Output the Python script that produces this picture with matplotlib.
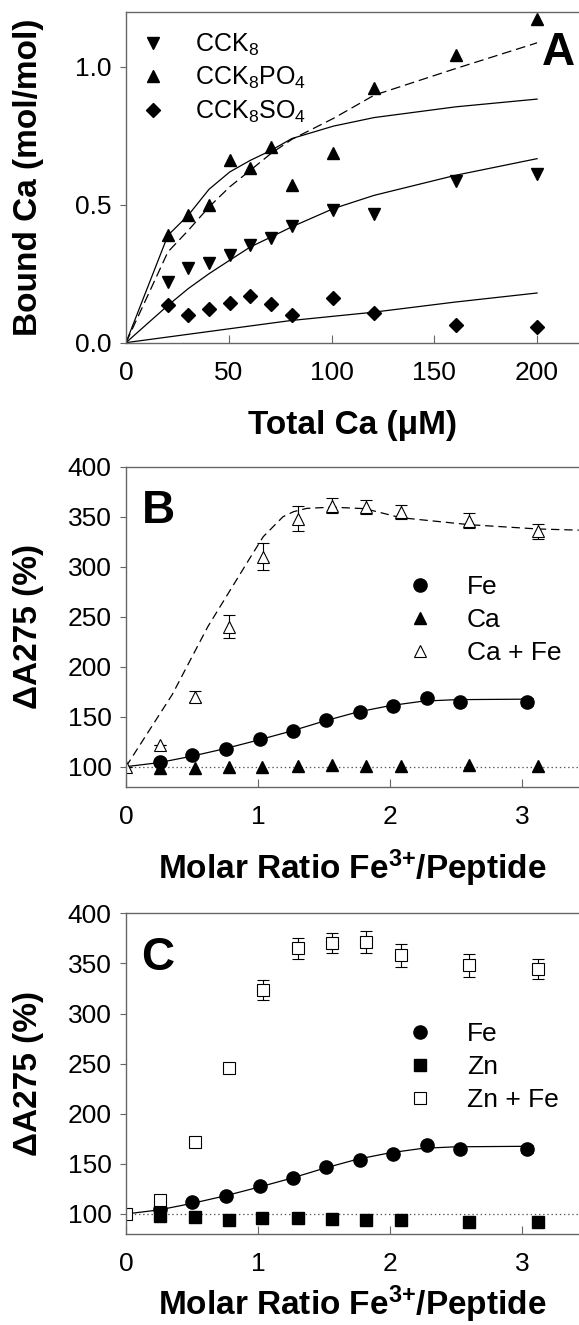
import matplotlib.pyplot as plt

plt.rcParams['font.family'] = ['Liberation Sans', 'DejaVu Sans']
plt.rcParams['mathtext.fontset'] = 'custom'
plt.rcParams['mathtext.rm'] = 'Liberation Sans'
plt.rcParams['mathtext.it'] = 'Liberation Sans:italic'
plt.rcParams['mathtext.bf'] = 'Liberation Sans:bold'
plt.rcParams['lines.scale_dashes'] = False

# Panel A: Ca binding to CCK8 peptides
ca_total = [20.4, 30.3, 40.4, 50.5, 60.5, 70.6, 80.7, 100.9, 120.7, 160.5, 200.0]
bound_cck8 = [0.22, 0.27, 0.287, 0.317, 0.353, 0.381, 0.424, 0.48, 0.468, 0.586, 0.613]
bound_po4 = [0.389, 0.464, 0.498, 0.661, 0.634, 0.71, 0.57, 0.688, 0.925, 1.042, 1.173]
bound_so4 = [0.135, 0.10, 0.122, 0.144, 0.168, 0.139, 0.099, 0.162, 0.108, 0.065, 0.057]

fit_x = [0, 20.4, 30.3, 40.4, 50.5, 60.5, 70.6, 80.7, 100.9, 120.7, 160.5, 200.0]
fit_po4 = [0, 0.389, 0.462, 0.556, 0.619, 0.661, 0.697, 0.740, 0.785, 0.816, 0.855, 0.883]
fit_po4_dash = [0, 0.329, 0.407, 0.492, 0.565, 0.625, 0.686, 0.737, 0.813, 0.897, 0.994, 1.087]
fit_cck8 = [0, 0.135, 0.196, 0.25, 0.299, 0.347, 0.383, 0.42, 0.486, 0.534, 0.607, 0.667]
fit_so4_x = [0, 40, 80, 120, 160, 200]
fit_so4 = [0, 0.04, 0.08, 0.11, 0.147, 0.18]

# Panels B and C: A275 change vs Fe3+/peptide
fe_ratio = [0.254, 0.503, 0.757, 1.014, 1.265, 1.517, 1.77, 2.025, 2.277, 2.528, 3.039]
fe_dA = [105, 112, 117.6, 127.5, 135.5, 147, 154.2, 160.2, 168.8, 165, 165]
fe_err = [0, 0, 0, 0, 0, 0, 0, 0, 0, 0, 4]
fe_fit_x = [0, 0.25, 0.5, 0.75, 1.0, 1.25, 1.5, 1.75, 2.0, 2.25, 2.5, 3.04]
fe_fit_y = [100, 104, 110.5, 118, 126.5, 135.5, 145.5, 154.5, 161, 165.5, 167, 167.5]

metal_ratio = [0.254, 0.525, 0.779, 1.034, 1.302, 1.564, 1.818, 2.081, 2.598, 3.123]
ca_dA = [99, 98.5, 99.5, 99.5, 100.5, 101.5, 101, 100.3, 101.3, 100.5]
zn_dA = [97.5, 96.7, 93.7, 96, 96, 95.4, 93.7, 93.7, 92, 92]

mix_ratio = [0, 0.26, 0.52, 0.78, 1.036, 1.30, 1.559, 1.818, 2.08, 2.598, 3.123]
cafe_dA = [100, 121.5, 170, 240, 310, 348, 361, 360, 355, 346, 335.3]
cafe_err = [0, 0, 5.5, 11.5, 13.5, 12.5, 7.5, 7, 7, 7.5, 7.5]
znfe_dA = [100, 114.3, 171.3, 245.2, 323, 365, 370, 371, 358, 348, 344.6]
znfe_err = [0, 0, 0, 3.5, 10, 10.5, 10, 11, 11.5, 11.5, 10]

cafe_fit_x = [0, 0.35, 0.62, 0.93, 1.04, 1.19, 1.27, 1.37, 1.56, 1.81, 2.08, 2.6, 3.12, 3.43]
cafe_fit_y = [100, 172, 240, 306.7, 330, 350, 355, 358.3, 359.5, 358, 349, 342, 337.7, 336.5]

SPINE = '#666666'
TICK_FS = 19
LABEL_FS = 24
RATIO_LABEL = 'Molar Ratio Fe$^{\\mathbf{3{+}}}$/Peptide'


def _style_axes(ax):
    """Frame, ticks and tick labels shared by the three panels."""
    ax.spines['right'].set_visible(False)
    for side in ['left', 'bottom', 'top']:
        ax.spines[side].set_color(SPINE)
        ax.spines[side].set_linewidth(1.0)
    ax.tick_params(axis='x', direction='in', length=6, width=0.8, color=SPINE,
                   pad=13, labelsize=TICK_FS)
    ax.tick_params(axis='y', direction='out', length=4.5, width=0.8, color=SPINE,
                   pad=6, labelsize=TICK_FS)


def _panel_letter(ax, letter, x, y):
    ax.text(x, y, letter, transform=ax.transAxes, fontsize=33, fontweight='bold',
            ha='left', va='baseline')


fig = plt.figure(figsize=(5.79, 13.25), dpi=100)
left, width = 0.2176, 0.7824
axA = fig.add_axes([left, 0.7414, width, 0.2498])
axB = fig.add_axes([left, 0.4063, width, 0.2415])
axC = fig.add_axes([left, 0.0687, width, 0.2420])

# ---- Panel A ----
axA.plot(fit_x, fit_po4, color='black', lw=0.9)
axA.plot(fit_x, fit_po4_dash, color='black', lw=0.9, ls=(0, (7, 3.5)))
axA.plot(fit_x, fit_cck8, color='black', lw=0.9)
axA.plot(fit_so4_x, fit_so4, color='black', lw=0.9)
axA.plot(ca_total, bound_cck8, 'v', color='black', ms=9, ls='none', label='CCK$_8$')
axA.plot(ca_total, bound_po4, '^', color='black', ms=9, ls='none', label='CCK$_8$PO$_4$')
axA.plot(ca_total, bound_so4, 'D', color='black', ms=7.5, ls='none', label='CCK$_8$SO$_4$')
axA.set_xlim(0, 220.4)
axA.set_ylim(0, 1.2)
axA.set_xticks([0, 50, 100, 150, 200])
axA.set_yticks([0.0, 0.5, 1.0])
axA.set_yticklabels(['0.0', '0.5', '1.0'])
_style_axes(axA)
axA.set_xlabel('Total Ca (\u03bcM)', fontsize=LABEL_FS, fontweight='bold', va='baseline')
axA.xaxis.set_label_coords(0.5, -0.275)
axA.set_ylabel('Bound Ca (mol/mol)', fontsize=LABEL_FS, fontweight='bold')
axA.yaxis.set_label_coords(-0.18, 0.5)
axA.legend(loc='upper left', bbox_to_anchor=(0.033, 0.94), frameon=False,
           fontsize=18, handlelength=1.0, handletextpad=1.17, labelspacing=0.3,
           borderpad=0, borderaxespad=0)
_panel_letter(axA, 'A', 0.918, 0.839)


def _ratio_panel(ax, metal_y, metal_marker, metal_ms, metal_label,
                 mix_y, mix_err, mix_marker, mix_ms, mix_label, letter, dashed_fit):
    """Panel of the A275 change against the Fe3+/peptide molar ratio."""
    ax.axhline(100, color='#555555', lw=0.9, ls=(0, (1, 2)), zorder=0)
    ax.plot(fe_fit_x, fe_fit_y, color='black', lw=0.9)
    if dashed_fit:
        ax.plot(cafe_fit_x, cafe_fit_y, color='black', lw=0.9, ls=(0, (6, 3.5)))
    ax.errorbar(fe_ratio, fe_dA, yerr=fe_err, fmt='none', ecolor='black',
                elinewidth=0.8, capsize=4, capthick=0.8)
    h_fe, = ax.plot(fe_ratio, fe_dA, 'o', color='black', ms=9.5, ls='none')
    h_metal, = ax.plot(metal_ratio, metal_y, metal_marker, color='black',
                       ms=metal_ms, ls='none')
    ax.errorbar(mix_ratio, mix_y, yerr=mix_err, fmt='none', ecolor='black',
                elinewidth=0.8, capsize=4, capthick=0.8)
    h_mix, = ax.plot(mix_ratio, mix_y, mix_marker, mfc='white', mec='black',
                     mew=0.8, ms=mix_ms, ls='none')
    ax.set_xlim(0, 3.432)
    ax.set_ylim(80, 400)
    ax.set_xticks([0, 1, 2, 3])
    ax.set_yticks([100, 150, 200, 250, 300, 350, 400])
    _style_axes(ax)
    ax.set_ylabel('\u0394A275 (%)', fontsize=LABEL_FS, fontweight='bold')
    ax.yaxis.set_label_coords(-0.18, 0.5)
    ax.legend([h_fe, h_metal, h_mix], ['Fe', metal_label, mix_label],
              loc='upper left', bbox_to_anchor=(0.62, 0.661), frameon=False,
              fontsize=TICK_FS, handlelength=1.0, handletextpad=1.28,
              labelspacing=0.34, borderpad=0, borderaxespad=0)
    _panel_letter(ax, letter, 0.034, 0.823)


_ratio_panel(axB, ca_dA, '^', 8.5, 'Ca', cafe_dA, cafe_err, '^', 9, 'Ca + Fe', 'B', True)
axB.set_xlabel(RATIO_LABEL, fontsize=LABEL_FS, fontweight='bold', va='baseline')
axB.xaxis.set_label_coords(0.5, -0.288)

_ratio_panel(axC, zn_dA, 's', 8, 'Zn', znfe_dA, znfe_err, 's', 8, 'Zn + Fe', 'C', False)
axC.set_xlabel(RATIO_LABEL, fontsize=LABEL_FS, fontweight='bold', va='baseline')
axC.xaxis.set_label_coords(0.5, -0.252)

fig.savefig('out.png', dpi=100)
